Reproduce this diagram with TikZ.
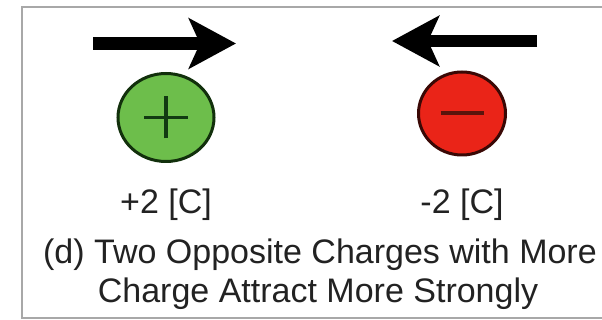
\documentclass[tikz,border=0pt]{standalone}
\usepackage{fontspec}
\setmainfont{Liberation Sans}
\usetikzlibrary{arrows.meta,shapes.geometric}

\definecolor{framegray}{HTML}{A8A8A8}
\definecolor{posfill}{HTML}{6DBE4B}
\definecolor{posedge}{HTML}{12300C}
\definecolor{possign}{HTML}{123A12}
\definecolor{negfill}{HTML}{EA2418}
\definecolor{negedge}{HTML}{3A0805}
\definecolor{negsign}{HTML}{5A140C}
\definecolor{inktext}{HTML}{222222}

\tikzset{
  forcearrow/.style={line width=13pt, draw=black,
    -{Stealth[length=47pt, width=50pt, inset=11pt]}},
  charge/.style={ellipse, draw, line width=3pt, inner sep=0pt},
  signline/.style={line width=3.5pt, line cap=butt},
  labeltext/.style={anchor=base, text=inktext, inner sep=0pt,
    font=\fontsize{34}{40}\selectfont},
}

\begin{document}
\begin{tikzpicture}[x=1pt, y=-1pt]
  \useasboundingbox (0,0) rectangle (602,320);
  \fill[white] (0,0) rectangle (602,320);

  % panel frame, open on the right
  \begin{scope}
    \clip (0,0) rectangle (602,320);
    \draw[framegray, line width=2.2pt] (22,7) rectangle (640,318);
  \end{scope}

  % force arrows
  \coordinate (fa1) at (93,43.5);
  \coordinate (fb1) at (236,43.5);
  \coordinate (fa2) at (537,41);
  \coordinate (fb2) at (392,41);
  \draw[forcearrow] (fa1) -- (fb1);
  \draw[forcearrow, line width=12pt] (fa2) -- (fb2);

  % charges
  \node[charge, draw=posedge, fill=posfill,
        minimum width=96pt, minimum height=88pt] (pos) at (166,117.5) {};
  \draw[signline, possign] ([xshift=-22pt]pos.center) -- ([xshift=22pt]pos.center);
  \draw[signline, possign] ([yshift=-21pt]pos.center) -- ([yshift=21pt]pos.center);

  \node[charge, draw=negedge, fill=negfill,
        minimum width=87pt, minimum height=83pt] (neg) at (462,113.5) {};
  \draw[signline, negsign, line width=4pt]
    ([xshift=-21.5pt]neg.center) -- ([xshift=21.5pt]neg.center);

  % labels
  \node[labeltext] (qpos) at (166,214) {+2 [C]};
  \node[labeltext] (qneg) at (462,214) {-2 [C]};
  \node[labeltext] (cap1) at (320,264) {(d) Two Opposite Charges with More};
  \node[labeltext] (cap2) at (318,302) {Charge Attract More Strongly};
\end{tikzpicture}
\end{document}
